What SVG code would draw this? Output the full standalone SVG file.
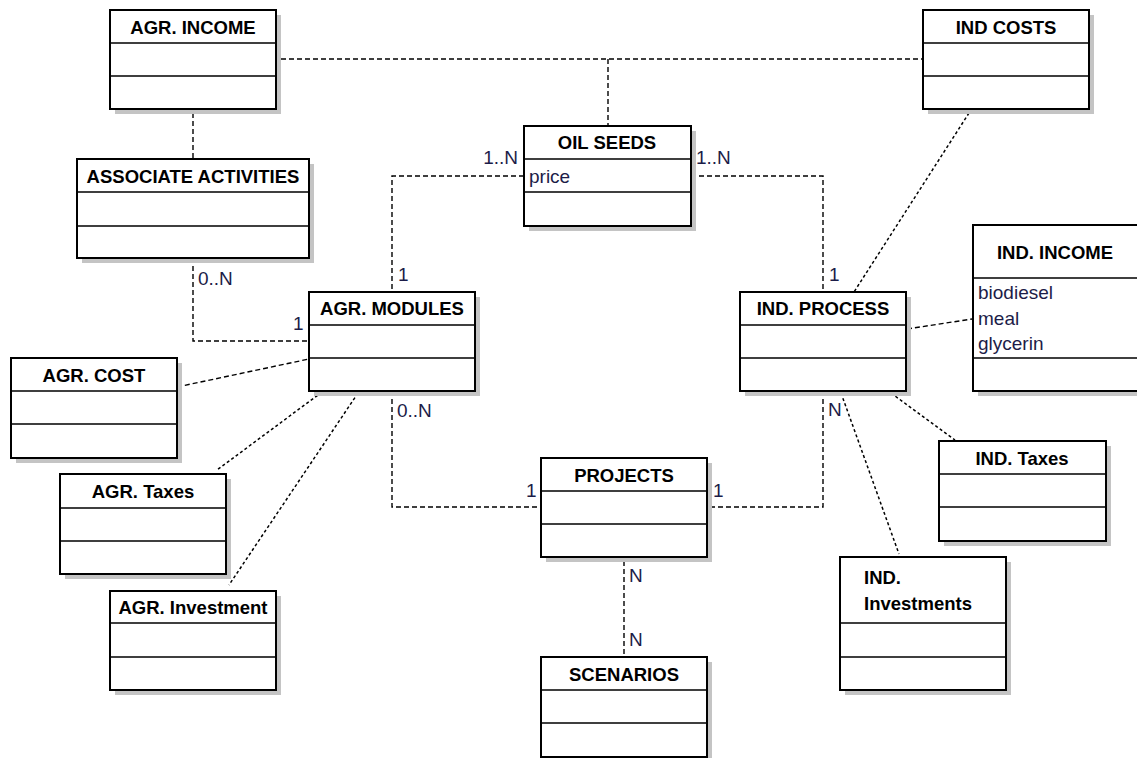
<svg xmlns="http://www.w3.org/2000/svg" width="1137" height="758" viewBox="0 0 1137 758">
<style>
.sh{fill:#c4c4c4}
.bx{fill:#fff;stroke:#000;stroke-width:2}
.dv{stroke:#000;stroke-width:1.6}
.t{font-family:"Liberation Sans",Arial,sans-serif;font-weight:bold;font-size:18.5px;fill:#000;text-anchor:middle}
.ts{font-family:"Liberation Sans",Arial,sans-serif;font-weight:bold;font-size:18.5px;fill:#000;text-anchor:start}
.a{font-family:"Liberation Sans",Arial,sans-serif;font-size:19px;fill:#1c1c48}
.l{font-family:"Liberation Sans",Arial,sans-serif;font-size:19px;fill:#1c1c48}
.le{font-family:"Liberation Sans",Arial,sans-serif;font-size:19px;fill:#1c1c48;text-anchor:end}
.as{fill:none;stroke:#000;stroke-width:1.4;stroke-dasharray:5,3}
.dp{fill:none;stroke:#000;stroke-width:1.5;stroke-dasharray:3,2.5}
</style>
<rect width="1137" height="758" fill="#fff"/>
<g id="connectors">
<path class="as" d="M281,59 H923 M608,59 V126"/>
<path class="as" d="M193,113 V159"/>
<path class="as" d="M193,258 V341 H309"/>
<path class="as" d="M524,176 H392 V292"/>
<path class="as" d="M691,176 H823 V292"/>
<path class="as" d="M392,391 V507 H541"/>
<path class="as" d="M823,391 V507 H707"/>
<path class="as" d="M624,561 V657"/>
<path class="as" d="M907,329 L972,319"/>
<path class="as" d="M177,387 L309,359"/>
<path class="dp" d="M322,392 L217,470"/>
<path class="dp" d="M358,393 L229,585"/>
<path class="dp" d="M969,113 L854,292"/>
<path class="dp" d="M891,393 L955,440"/>
<path class="dp" d="M841,393 L899,554"/>
<text class="l" x="198" y="285">0..N</text>
<text class="l" x="293" y="330">1</text>
<text class="le" x="518" y="164">1..N</text>
<text class="l" x="398" y="281">1</text>
<text class="l" x="696" y="164">1..N</text>
<text class="l" x="829" y="281">1</text>
<text class="l" x="397" y="417">0..N</text>
<text class="l" x="526" y="497">1</text>
<text class="l" x="713" y="497">1</text>
<text class="l" x="828" y="416">N</text>
<text class="l" x="629" y="582">N</text>
<text class="l" x="629" y="646">N</text>
</g>
<g id="agr-income">
<rect class="sh" x="115" y="15" width="166" height="99"/>
<rect class="bx" x="110" y="10" width="166" height="99"/>
<path class="dv" d="M110,43 H276 M110,76 H276"/>
<text class="t" x="193" y="34">AGR. INCOME</text>
</g>
<g id="ind-costs">
<rect class="sh" x="928" y="15" width="166" height="99"/>
<rect class="bx" x="923" y="10" width="166" height="99"/>
<path class="dv" d="M923,43 H1089 M923,76 H1089"/>
<text class="t" x="1006" y="34">IND COSTS</text>
</g>
<g id="associate-activities">
<rect class="sh" x="82" y="164" width="232" height="99"/>
<rect class="bx" x="77" y="159" width="232" height="99"/>
<path class="dv" d="M77,192 H309 M77,226 H309"/>
<text class="t" x="193" y="183">ASSOCIATE ACTIVITIES</text>
</g>
<g id="oil-seeds">
<rect class="sh" x="529" y="131" width="167" height="100"/>
<rect class="bx" x="524" y="126" width="167" height="100"/>
<path class="dv" d="M524,159 H691 M524,192 H691"/>
<text class="t" x="607" y="149">OIL SEEDS</text>
<text class="a" x="529" y="183">price</text>
</g>
<g id="agr-modules">
<rect class="sh" x="314" y="297" width="166" height="99"/>
<rect class="bx" x="309" y="292" width="166" height="99"/>
<path class="dv" d="M309,325 H475 M309,358 H475"/>
<text class="t" x="392" y="315">AGR. MODULES</text>
</g>
<g id="ind-process">
<rect class="sh" x="745" y="297" width="166" height="99"/>
<rect class="bx" x="740" y="292" width="166" height="99"/>
<path class="dv" d="M740,325 H906 M740,358 H906"/>
<text class="t" x="823" y="315">IND. PROCESS</text>
</g>
<g id="ind-income">
<rect class="sh" x="978" y="230" width="166" height="166"/>
<rect class="bx" x="973" y="225" width="166" height="166"/>
<path class="dv" d="M973,278 H1139 M973,358 H1139"/>
<text class="t" x="1055" y="259">IND. INCOME</text>
<text class="a" x="978" y="299">biodiesel</text>
<text class="a" x="978" y="325">meal</text>
<text class="a" x="978" y="350">glycerin</text>
</g>
<g id="agr-cost">
<rect class="sh" x="16" y="363" width="166" height="100"/>
<rect class="bx" x="11" y="358" width="166" height="100"/>
<path class="dv" d="M11,391 H177 M11,424 H177"/>
<text class="t" x="94" y="382">AGR. COST</text>
</g>
<g id="agr-taxes">
<rect class="sh" x="65" y="479" width="166" height="100"/>
<rect class="bx" x="60" y="474" width="166" height="100"/>
<path class="dv" d="M60,508 H226 M60,541 H226"/>
<text class="t" x="143" y="498">AGR. Taxes</text>
</g>
<g id="agr-investment">
<rect class="sh" x="115" y="596" width="166" height="99"/>
<rect class="bx" x="110" y="591" width="166" height="99"/>
<path class="dv" d="M110,623 H276 M110,657 H276"/>
<text class="t" x="193" y="614">AGR. Investment</text>
</g>
<g id="projects">
<rect class="sh" x="546" y="463" width="166" height="99"/>
<rect class="bx" x="541" y="458" width="166" height="99"/>
<path class="dv" d="M541,491 H707 M541,524 H707"/>
<text class="t" x="624" y="482">PROJECTS</text>
</g>
<g id="scenarios">
<rect class="sh" x="546" y="662" width="166" height="100"/>
<rect class="bx" x="541" y="657" width="166" height="100"/>
<path class="dv" d="M541,690 H707 M541,723 H707"/>
<text class="t" x="624" y="681">SCENARIOS</text>
</g>
<g id="ind-taxes">
<rect class="sh" x="944" y="446" width="167" height="100"/>
<rect class="bx" x="939" y="441" width="167" height="100"/>
<path class="dv" d="M939,474 H1106 M939,507 H1106"/>
<text class="t" x="1022" y="465">IND. Taxes</text>
</g>
<g id="ind-investments">
<rect class="sh" x="845" y="562" width="166" height="133"/>
<rect class="bx" x="840" y="557" width="166" height="133"/>
<path class="dv" d="M840,623 H1006 M840,657 H1006"/>
<text class="ts" x="864" y="584">IND.</text>
<text class="ts" x="864" y="610">Investments</text>
</g>
</svg>
